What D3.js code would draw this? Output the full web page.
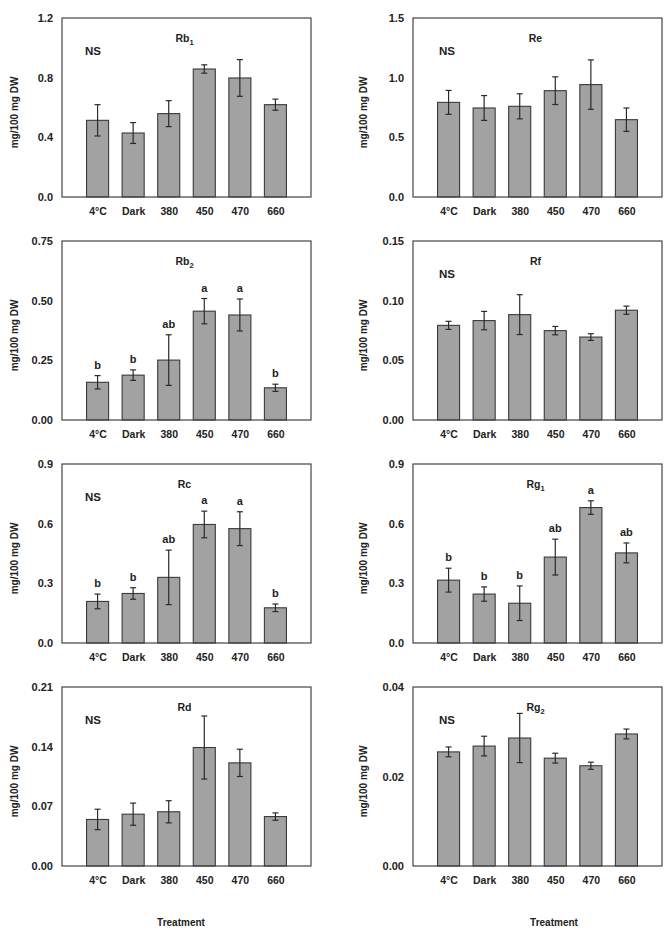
<!DOCTYPE html>
<html><head><meta charset="utf-8">
<script src="https://cdn.jsdelivr.net/npm/d3@7"></script>
<style>
body{margin:0;background:#fff;}
text{font-family:"Liberation Sans",Arial,sans-serif;font-weight:bold;fill:#222;}
</style></head>
<body><svg id="c" width="669" height="934"></svg>
<script>
const categories = ["4°C","Dark","380","450","470","660"];

const rb1Mean = [0.514,0.429,0.559,0.858,0.798,0.619];
const rb1Err  = [0.105,0.070,0.087,0.028,0.123,0.037];
const reMean  = [0.793,0.746,0.760,0.891,0.942,0.648];
const reErr   = [0.100,0.104,0.105,0.116,0.207,0.098];
const rb2Mean = [0.158,0.188,0.251,0.456,0.440,0.135];
const rb2Err  = [0.028,0.022,0.106,0.053,0.067,0.015];
const rb2Letters = ["b","b","ab","a","a","b"];
const rfMean  = [0.0793,0.0833,0.0883,0.0749,0.0695,0.0920];
const rfErr   = [0.0034,0.0077,0.0167,0.0035,0.0028,0.0034];
const rcMean  = [0.209,0.249,0.330,0.596,0.575,0.177];
const rcErr   = [0.037,0.029,0.137,0.067,0.085,0.019];
const rcLetters = ["b","b","ab","a","a","b"];
const rg1Mean = [0.316,0.246,0.200,0.432,0.681,0.453];
const rg1Err  = [0.060,0.036,0.087,0.090,0.034,0.050];
const rg1Letters = ["b","b","b","ab","a","ab"];
const rdMean  = [0.0546,0.0608,0.0636,0.139,0.121,0.058];
const rdErr   = [0.012,0.013,0.013,0.037,0.016,0.0043];
const rg2Mean = [0.0255,0.0268,0.0286,0.0241,0.0224,0.0295];
const rg2Err  = [0.0011,0.0022,0.0055,0.0011,0.0008,0.0011];

const rb1Ticks = [0,0.4,0.8,1.2];
const reTicks  = [0,0.5,1.0,1.5];
const rb2Ticks = [0,0.25,0.5,0.75];
const rfTicks  = [0,0.05,0.10,0.15];
const rcTicks  = [0,0.3,0.6,0.9];
const rg1Ticks = [0,0.3,0.6,0.9];
const rdTicks  = [0,0.07,0.14,0.21];
const rg2Ticks = [0,0.02,0.04];

const yLabel = "mg/100 mg DW";
const xLabel = "Treatment";

const panels = [
  {name:"Rb",sub:"1",mean:rb1Mean,err:rb1Err,ticks:rb1Ticks,fmt:".1f",ns:true,letters:null,col:0,row:0},
  {name:"Re",sub:"",mean:reMean,err:reErr,ticks:reTicks,fmt:".1f",ns:true,letters:null,col:1,row:0},
  {name:"Rb",sub:"2",mean:rb2Mean,err:rb2Err,ticks:rb2Ticks,fmt:".2f",ns:false,letters:rb2Letters,col:0,row:1},
  {name:"Rf",sub:"",mean:rfMean,err:rfErr,ticks:rfTicks,fmt:".2f",ns:true,letters:null,col:1,row:1},
  {name:"Rc",sub:"",mean:rcMean,err:rcErr,ticks:rcTicks,fmt:".1f",ns:true,letters:rcLetters,col:0,row:2},
  {name:"Rg",sub:"1",mean:rg1Mean,err:rg1Err,ticks:rg1Ticks,fmt:".1f",ns:false,letters:rg1Letters,col:1,row:2},
  {name:"Rd",sub:"",mean:rdMean,err:rdErr,ticks:rdTicks,fmt:".2f",ns:true,letters:null,col:0,row:3},
  {name:"Rg",sub:"2",mean:rg2Mean,err:rg2Err,ticks:rg2Ticks,fmt:".2f",ns:true,letters:null,col:1,row:3}
];

const svg = d3.select("#c");
const colX = [62, 413];
const rowY = [18, 241, 464, 687];
const W = 249, H = 179;

panels.forEach(p => {
  const g = svg.append("g").attr("transform",`translate(${colX[p.col]},${rowY[p.row]})`);
  const x = d3.scalePoint().domain(categories).range([0,W]).padding(1);
  const step = x.step();
  const bw = step*0.62;
  const y = d3.scaleLinear().domain([0,p.ticks[p.ticks.length-1]]).range([H,0]);

  // y axis labels
  const ya = g.append("g").call(d3.axisLeft(y).tickValues(p.ticks).tickFormat(d3.format(p.fmt)).tickSize(0).tickPadding(9));
  ya.select(".domain").remove();
  ya.selectAll("text").style("font-size","11px").style("font-family","Liberation Sans, Arial, sans-serif").style("font-weight","bold").attr("fill","#222");

  // x axis labels
  const xa = g.append("g").attr("transform",`translate(0,${H})`).call(d3.axisBottom(x).tickSize(0).tickPadding(11));
  xa.select(".domain").remove();
  xa.selectAll("text").style("font-size","10.5px").style("font-family","Liberation Sans, Arial, sans-serif").style("font-weight","bold").attr("fill","#222");

  // bars
  g.selectAll("rect.bar").data(p.mean).join("rect").attr("class","bar")
    .attr("x",(d,i)=>x(categories[i])-bw/2).attr("width",bw)
    .attr("y",d=>y(d)).attr("height",d=>H-y(d))
    .attr("fill","#a2a2a2").attr("stroke","#3a3a3a").attr("stroke-width",1.1);

  // error bars
  const eb = g.selectAll("g.err").data(p.mean).join("g").attr("class","err");
  eb.append("line").attr("x1",(d,i)=>x(categories[i])).attr("x2",(d,i)=>x(categories[i]))
    .attr("y1",(d,i)=>y(d+p.err[i])).attr("y2",(d,i)=>y(d-p.err[i]));
  eb.append("line").attr("x1",(d,i)=>x(categories[i])-3).attr("x2",(d,i)=>x(categories[i])+3)
    .attr("y1",(d,i)=>y(d+p.err[i])).attr("y2",(d,i)=>y(d+p.err[i]));
  eb.append("line").attr("x1",(d,i)=>x(categories[i])-3).attr("x2",(d,i)=>x(categories[i])+3)
    .attr("y1",(d,i)=>y(d-p.err[i])).attr("y2",(d,i)=>y(d-p.err[i]));
  eb.selectAll("line").attr("stroke","#2a2a2a").attr("stroke-width",1.2);

  // letters
  if (p.letters) {
    g.selectAll("text.let").data(p.letters).join("text").attr("class","let")
      .attr("x",(d,i)=>x(categories[i])).attr("y",(d,i)=>y(p.mean[i]+p.err[i])-7)
      .attr("text-anchor","middle").style("font-size","11px").text(d=>d);
  }

  // frame
  g.append("rect").attr("x",0).attr("y",0).attr("width",W).attr("height",H)
    .attr("fill","none").attr("stroke","#444").attr("stroke-width",1.2);

  // title
  const t = g.append("text").attr("x",W/2-2).attr("y",24).attr("text-anchor","middle").style("font-size","10.5px");
  t.append("tspan").text(p.name);
  if (p.sub) t.append("tspan").attr("dy",3).style("font-size","7.5px").text(p.sub);

  if (p.ns) {
    g.append("text").attr("x",p.col===0?31:34).attr("y",37).attr("text-anchor","middle").style("font-size","11.5px").text("NS");
  }

  // y label
  g.append("text").attr("transform",`translate(${p.col===0?-44:-46},${H/2+5}) rotate(-90)`)
    .attr("text-anchor","middle").style("font-size","10px").text(yLabel);
});

svg.append("text").attr("x",181).attr("y",926).attr("text-anchor","middle").style("font-size","10px").text(xLabel);
svg.append("text").attr("x",554).attr("y",926).attr("text-anchor","middle").style("font-size","10px").text(xLabel);
</script></body></html>
